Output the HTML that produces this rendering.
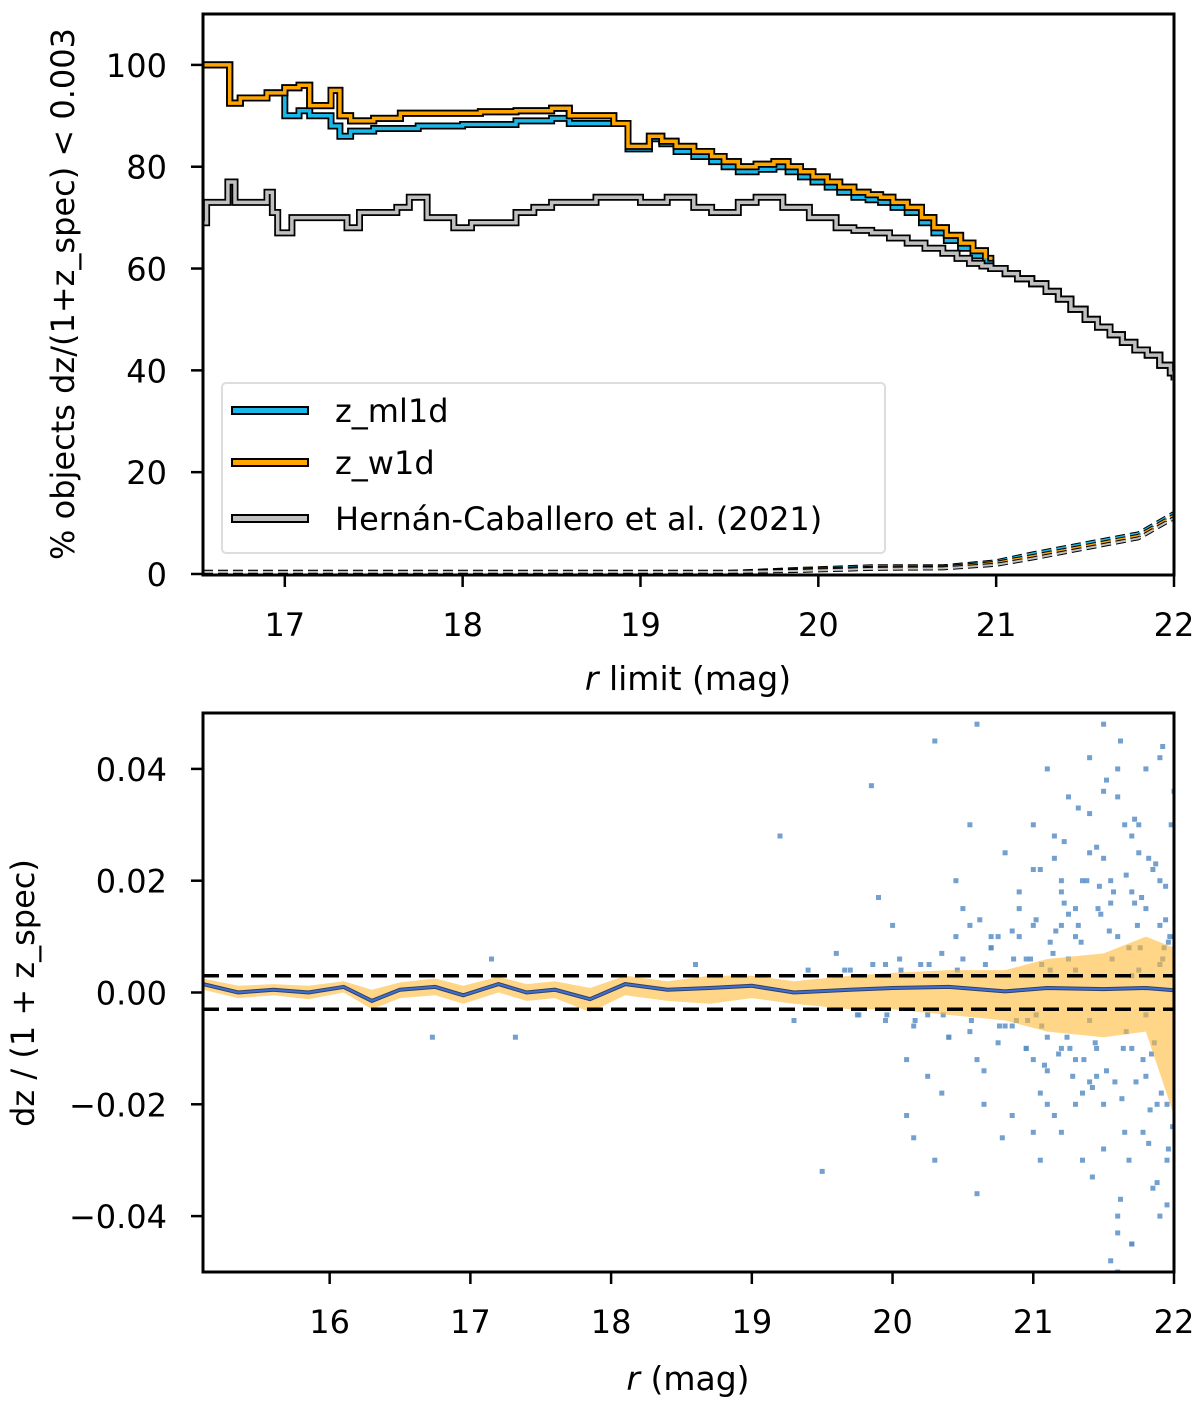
<!DOCTYPE html>
<html><head><meta charset="utf-8">
<style>
body{margin:0;background:#fff;}
svg{display:block;font-family:"DejaVu Sans","Liberation Sans",sans-serif;}
</style></head>
<body>
<svg id="fig" width="1200" height="1402" viewBox="0 0 1200 1402" xmlns="http://www.w3.org/2000/svg"></svg>
<script>
// ---------- TOP PANEL DATA ----------
const topTicksX = [17,18,19,20,21,22];
const topTicksY = [0,20,40,60,80,100];
const w1dR   = [16.54,16.69,16.75,16.9,17.0,17.08,17.14,17.26,17.31,17.37,17.5,17.65,17.9,18.1,18.3,18.5,18.6,18.85,18.93,19.05,19.12,19.2,19.3,19.4,19.47,19.55,19.65,19.75,19.83,19.9,19.97,20.05,20.12,20.2,20.28,20.35,20.42,20.5,20.58,20.65,20.72,20.8,20.87,20.94];
const w1dV   = [100,92.5,93.5,94.5,95.5,96,92,95,90,89,89.5,90.5,90.5,90.8,91,91.5,90,88.5,84,86,85,84,83,82,81,80,80.5,81,80,79,78,77,76,75,74.5,74,73,72,70,68,66.5,65,63.5,62];
const ml1dR  = [16.54,16.69,16.75,16.9,17.0,17.08,17.14,17.26,17.31,17.37,17.5,17.75,18.0,18.3,18.5,18.6,18.85,18.93,19.05,19.12,19.2,19.3,19.4,19.47,19.55,19.65,19.75,19.83,19.9,19.97,20.05,20.12,20.2,20.28,20.35,20.42,20.5,20.58,20.65,20.72,20.8,20.87,20.94];
const ml1dV  = [100,92.5,93.5,94.5,90,91,90,88,86,87,87.5,88,88.3,89,89.5,88.5,88.5,83.5,85.5,84.5,83,82,81,80,79,79.5,80,79,78,77,76,75,74,73.5,73,72,71,69,67,65.5,64,62.5,61];
const hcR    = [16.54,16.56,16.68,16.72,16.78,16.9,16.93,16.96,17.04,17.2,17.35,17.42,17.6,17.63,17.7,17.8,17.95,18.05,18.2,18.3,18.4,18.5,18.6,18.75,18.9,19.0,19.15,19.3,19.4,19.55,19.65,19.8,19.95,20.1,20.2,20.3,20.4,20.5,20.6,20.7,20.78,20.85,20.92];
const hcV    = [69,73,77,73,73,75,71,67,70,70,68,71,71,72,74,70,68,69,69,71,72,73,73,74,74,73,74,72,71,73,74,72,70,68,67.5,67,66,65,64,63,62,61,60.5];
const mergeR = [20.97,21.05,21.12,21.2,21.28,21.35,21.42,21.5,21.57,21.64,21.71,21.78,21.85,21.92,21.98,22.0];
const mergeV = [60,59,58,57,55.5,54,52,50,48.5,47,45.5,44,43,41,39.5,38];
const dashR  = [16.54,19.5,19.9,20.3,20.7,21.0,21.2,21.5,21.8,22.0];
const dashA  = [0.4,0.4,1,1.5,1.5,2.5,4,6,8,12];
const dashB  = [0.4,0.4,0.8,1.2,1.3,2.2,3.5,5.5,7.5,11.5];
const dashC  = [0.4,0.4,0.6,1,1.1,1.8,3,5,7,11];

// ---------- BOTTOM PANEL DATA ----------
const botTicksX = [16,17,18,19,20,21,22];
const botTicksY = [0.04,0.02,0,-0.02,-0.04];
const botTickLabels = ["0.04","0.02","0.00","\u22120.02","\u22120.04"];
const medR = [15.1,15.35,15.6,15.85,16.1,16.3,16.5,16.75,16.95,17.2,17.4,17.6,17.85,18.1,18.4,18.7,19.0,19.3,19.7,20.0,20.4,20.8,21.1,21.5,21.8,22.0];
const medV = [0.0015,0.0,0.0005,0.0,0.001,-0.0015,0.0005,0.001,-0.0005,0.0015,0.0,0.0005,-0.0012,0.0015,0.0005,0.0008,0.0012,0.0,0.0005,0.0008,0.001,0.0002,0.0008,0.0006,0.0008,0.0004];
const bandHi = [0.0025,0.0012,0.0015,0.0012,0.002,0.0005,0.0018,0.0025,0.0012,0.0028,0.0015,0.002,0.0008,0.003,0.002,0.003,0.003,0.002,0.003,0.0035,0.004,0.004,0.006,0.007,0.010,0.008];
const bandLo = [0.0005,-0.001,-0.0005,-0.0012,0.0,-0.003,-0.001,-0.0005,-0.002,0.0,-0.0015,-0.001,-0.0035,-0.0005,-0.0015,-0.002,-0.001,-0.002,-0.003,-0.003,-0.004,-0.005,-0.007,-0.008,-0.007,-0.022];
const ptR = [16.73,17.15,17.32,18.6,19.4,19.3,19.6,19.85,20.0,20.3,20.45,20.6,20.7,20.3,20.1,20.25,20.5,20.65,20.8,20.9,20.95,21.0,21.05,21.1,21.15,21.2,21.25,21.3,21.35,21.4,21.45,21.5,21.55,21.6,21.65,21.7,21.75,21.8,21.85,21.9,21.95,22.0,21.0,21.1,21.2,21.3,21.4,21.5,21.6,21.7,21.8,21.9,21.95,20.9,20.8,20.7,20.6,20.5,20.4,20.2,21.05,21.15,21.25,21.35,21.45,21.55,21.65,21.75,21.85,21.9,21.98,21.7,21.6,21.5,21.4,21.3,21.2,21.1,21.0,20.9,20.85,20.75,20.55,20.35,20.15,19.95,19.75,21.55,21.62,21.68,21.72,21.78,21.82,21.88,21.93,21.97,21.45,21.35,21.25,21.15,21.05,20.95,20.6,20.4,20.45,20.65,21.3,21.5,21.6,21.7,21.8,21.9,21.95,22.0,21.6,21.7,21.75,20.85,21.0,21.2,21.4,19.9,20.1,20.25,20.55,21.38,21.48,21.58,21.68,21.78,21.88,21.92,21.96,
 19.2,19.5,19.7,19.95,20.05,20.15,20.35,20.55,20.7,20.75,20.85,20.95,21.02,21.08,21.12,21.18,21.22,21.28,21.32,21.42,21.47,21.52,21.57,21.63,21.66,21.73,21.77,21.83,21.87,21.91,21.94,21.99,20.62,20.78,20.88,20.98,21.06,21.14,21.24,21.34,21.44,21.54,21.64,21.74,21.84,21.94,21.36,21.46,21.56,21.66,21.76,21.86,21.96,21.26,21.16,21.06,20.96,20.86,20.76,20.66,20.56,20.46,20.36,20.26,20.16,20.06,19.96,19.86,19.76,19.66,21.02,21.12,21.22,21.32,21.42,21.52,21.62,21.72,21.82,21.92,21.5,21.6,21.7,21.8,21.9,21.4,21.3,21.2,21.1,21.0];
const ptV = [-0.008,0.006,-0.008,0.005,0.004,-0.005,0.007,0.037,0.012,0.045,0.02,0.048,0.01,-0.03,-0.012,-0.015,0.015,-0.02,0.025,0.018,-0.01,0.03,-0.018,0.04,0.028,-0.025,0.035,0.01,-0.03,0.042,-0.015,0.048,0.02,-0.04,0.03,-0.045,0.025,0.015,-0.035,0.02,-0.02,0.036,0.012,-0.008,0.018,-0.012,0.025,-0.02,0.01,0.028,-0.015,0.012,-0.03,0.01,-0.006,0.008,-0.012,0.006,-0.008,0.005,0.022,-0.022,0.014,0.02,-0.01,0.016,-0.025,0.03,0.022,-0.04,0.03,-0.01,0.04,-0.028,0.032,-0.02,0.012,-0.014,-0.025,0.015,-0.022,0.01,0.012,-0.018,-0.026,0.005,-0.004,-0.048,0.045,-0.03,0.016,-0.025,0.024,-0.034,0.008,0.01,0.026,-0.018,0.006,0.024,-0.03,0.006,-0.036,-0.008,0.01,-0.014,0.015,0.024,0.035,-0.045,0.04,0.042,-0.038,0.01,-0.05,0.018,0.004,-0.006,-0.012,-0.01,-0.016,0.017,-0.022,-0.004,0.03,0.02,0.014,-0.016,0.008,-0.012,-0.02,0.006,-0.028,0.028,-0.032,
 0.004,-0.005,0.006,-0.006,0.007,-0.007,0.008,-0.009,0.011,-0.01,0.013,-0.013,0.009,-0.011,0.016,-0.015,0.012,-0.017,0.019,-0.014,0.018,-0.019,0.021,-0.016,0.017,-0.021,0.023,-0.018,0.019,-0.024,0.013,-0.026,-0.005,0.006,-0.006,0.007,-0.008,0.009,-0.009,0.011,-0.01,0.012,-0.011,0.013,-0.012,0.015,0.006,-0.007,0.008,-0.009,0.009,-0.01,0.011,0.005,-0.005,0.006,-0.006,0.005,-0.005,0.004,-0.004,0.005,-0.005,0.004,-0.004,0.005,-0.004,0.004,-0.004,0.004,0.027,0.033,-0.033,0.038,-0.037,0.031,-0.027,0.044,0.036,-0.043,0.003,-0.004,0.005,-0.005,0.004,0.02,-0.02,0.022,-0.024,0.026];

// ---------- DRAWING ----------
const NS="http://www.w3.org/2000/svg";
const svg=document.getElementById('fig');
function mk(tag,parent){const e=document.createElementNS(NS,tag);(parent||svg).appendChild(e);return e;}

const T={x0:203,x1:1174,y0:14,y1:575,xmin:16.54,xmax:22,ymin:-0.2,ymax:110};
const tx=v=>T.x0+(v-T.xmin)/(T.xmax-T.xmin)*(T.x1-T.x0);
const ty=v=>T.y1-(v-T.ymin)/(T.ymax-T.ymin)*(T.y1-T.y0);
const B={x0:203,x1:1174,y0:713,y1:1272,xmin:15.1,xmax:22,ymin:-0.05,ymax:0.05};
const bx=v=>B.x0+(v-B.xmin)/(B.xmax-B.xmin)*(B.x1-B.x0);
const by=v=>B.y1-(v-B.ymin)/(B.ymax-B.ymin)*(B.y1-B.y0);

function stepPath(R,V,fx,fy){
  let d="";
  for(let i=0;i<R.length;i++){
    const x=fx(R[i]),y=fy(V[i]);
    d+=(i?"H"+x.toFixed(1)+"V"+y.toFixed(1):"M"+x.toFixed(1)+","+y.toFixed(1));
  }
  return d;
}
function linePath(R,V,fx,fy){return R.map((r,i)=>(i?"L":"M")+fx(r).toFixed(1)+","+fy(V[i]).toFixed(1)).join("");}

const defs=mk('defs');
const c1=mk('clipPath',defs);c1.setAttribute('id','ct');
const r1=mk('rect',c1);r1.setAttribute('x',T.x0);r1.setAttribute('y',T.y0);r1.setAttribute('width',T.x1-T.x0);r1.setAttribute('height',T.y1-T.y0);
const c2=mk('clipPath',defs);c2.setAttribute('id','cb');
const r2=mk('rect',c2);r2.setAttribute('x',B.x0);r2.setAttribute('y',B.y0);r2.setAttribute('width',B.x1-B.x0);r2.setAttribute('height',B.y1-B.y0);

const gt=mk('g');gt.setAttribute('clip-path','url(#ct)');


[[dashA,'#1ab8e8'],[dashB,'#ffa500'],[dashC,'#c0c0c0']].forEach((s,i)=>{
  const k=mk('path',gt);k.setAttribute('d',linePath(dashR,s[0],tx,ty));k.setAttribute('fill','none');k.setAttribute('stroke','#000');k.setAttribute('stroke-width','4');k.setAttribute('stroke-dasharray','10,5');
  
  
  const p=mk('path',gt);p.setAttribute('d',linePath(dashR,s[0],tx,ty));p.setAttribute('fill','none');p.setAttribute('stroke',s[1]);p.setAttribute('stroke-width','2');p.setAttribute('stroke-dasharray','10,5');
  
  
});
function outlined(R,V,col,name,inter){
  const d=stepPath(R,V,tx,ty);
  const k=mk('path',gt);k.setAttribute('d',d);k.setAttribute('fill','none');k.setAttribute('stroke','#000');k.setAttribute('stroke-width','7');
  
  
  const p=mk('path',gt);p.setAttribute('d',d);p.setAttribute('fill','none');p.setAttribute('stroke',col);p.setAttribute('stroke-width','3.5');
  
  
}
outlined(w1dR.concat(mergeR),w1dV.concat(mergeV),'#ffa500','z-w1d-line','true');
outlined(ml1dR.concat(mergeR),ml1dV.concat(mergeV),'#1ab8e8','z-ml1d-line','true');
outlined(w1dR,w1dV,'#ffa500','z-w1d-line-top','false');
outlined(hcR.concat(mergeR),hcV.concat(mergeV),'#c0c0c0','hernan-caballero-line','true');

function axesFrame(A,fx,fy,xt,yt,ylab,name){
  const f=mk('rect');f.setAttribute('x',A.x0);f.setAttribute('y',A.y0);f.setAttribute('width',A.x1-A.x0);f.setAttribute('height',A.y1-A.y0);
  f.setAttribute('fill','none');f.setAttribute('stroke','#000');f.setAttribute('stroke-width','3');
  
  
  xt.forEach(v=>{
    const x=fx(v);
    const l=mk('line');l.setAttribute('x1',x);l.setAttribute('x2',x);l.setAttribute('y1',A.y1);l.setAttribute('y2',A.y1+12);l.setAttribute('stroke','#000');l.setAttribute('stroke-width','2.5');
    
    
    const t=mk('text');t.setAttribute('x',x);t.setAttribute('y',A.y1+61);t.setAttribute('text-anchor','middle');t.setAttribute('font-size','32');t.textContent=v;
    
    
  });
  yt.forEach((v,i)=>{
    const y=fy(v);
    const l=mk('line');l.setAttribute('x1',A.x0-12);l.setAttribute('x2',A.x0);l.setAttribute('y1',y);l.setAttribute('y2',y);l.setAttribute('stroke','#000');l.setAttribute('stroke-width','2.5');
    
    
    const t=mk('text');t.setAttribute('x',A.x0-36);t.setAttribute('y',y+12);t.setAttribute('text-anchor','end');t.setAttribute('font-size','32');t.textContent=ylab?ylab[i]:v;
    
    
  });
}
axesFrame(T,tx,ty,topTicksX,topTicksY,null,'top');

const lg=mk('g');


const lb=mk('rect',lg);lb.setAttribute('x',222);lb.setAttribute('y',383);lb.setAttribute('width',663);lb.setAttribute('height',170);lb.setAttribute('rx',4);lb.setAttribute('fill','#fff');lb.setAttribute('fill-opacity','0.8');lb.setAttribute('stroke','#ddd');lb.setAttribute('stroke-width','2');


[['z_ml1d','#1ab8e8',411],['z_w1d','#ffa500',463],['Hernán-Caballero et al. (2021)','#c0c0c0',519]].forEach(e=>{
  const s=mk('rect',lg);s.setAttribute('x',232);s.setAttribute('y',e[2]-4);s.setAttribute('width',76);s.setAttribute('height',7);s.setAttribute('fill',e[1]);s.setAttribute('stroke','#000');s.setAttribute('stroke-width','2');
  
  
  const t=mk('text',lg);t.setAttribute('x',335);t.setAttribute('y',e[2]+11);t.setAttribute('font-size','32');t.textContent=e[0];
  
  
});

let t=mk('text');t.setAttribute('x',688);t.setAttribute('y',690);t.setAttribute('text-anchor','middle');t.setAttribute('font-size','33');
t.innerHTML='<tspan font-style="italic">r</tspan> limit (mag)';


t=mk('text');t.setAttribute('transform','translate(74,294) rotate(-90)');t.setAttribute('text-anchor','middle');t.setAttribute('font-size','32');
t.textContent='% objects dz/(1+z_spec) < 0.003';



const gb=mk('g');gb.setAttribute('clip-path','url(#cb)');


ptR.forEach((r,i)=>{
  const s=mk('rect',gb);s.setAttribute('x',(bx(r)-2.5).toFixed(1));s.setAttribute('y',(by(ptV[i])-2.5).toFixed(1));s.setAttribute('width',5);s.setAttribute('height',5);s.setAttribute('fill','#5b8fc5');s.setAttribute('fill-opacity','0.85');
  
  
});
const band=mk('path',gb);
band.setAttribute('d',linePath(medR,bandHi,bx,by)+linePath(medR.slice().reverse(),bandLo.slice().reverse(),bx,by).replace('M','L')+'Z');
band.setAttribute('fill','#ffb938');band.setAttribute('fill-opacity','0.6');


[0.003,-0.003].forEach(v=>{
  const l=mk('line',gb);l.setAttribute('x1',B.x0);l.setAttribute('x2',B.x1);l.setAttribute('y1',by(v));l.setAttribute('y2',by(v));l.setAttribute('stroke','#000');l.setAttribute('stroke-width','3.5');l.setAttribute('stroke-dasharray','16,8');
  
  
});
let m=mk('path',gb);m.setAttribute('d',linePath(medR,medV,bx,by));m.setAttribute('fill','none');m.setAttribute('stroke','#33415c');m.setAttribute('stroke-width','4');


m=mk('path',gb);m.setAttribute('d',linePath(medR,medV,bx,by));m.setAttribute('fill','none');m.setAttribute('stroke','#3d6fd9');m.setAttribute('stroke-width','2');



axesFrame(B,bx,by,botTicksX,botTicksY,botTickLabels,'bottom');
t=mk('text');t.setAttribute('x',688);t.setAttribute('y',1390);t.setAttribute('text-anchor','middle');t.setAttribute('font-size','33');
t.innerHTML='<tspan font-style="italic">r</tspan> (mag)';


t=mk('text');t.setAttribute('transform','translate(34,993) rotate(-90)');t.setAttribute('text-anchor','middle');t.setAttribute('font-size','32');
t.textContent='dz / (1 + z_spec)';


</script>
</body></html>
